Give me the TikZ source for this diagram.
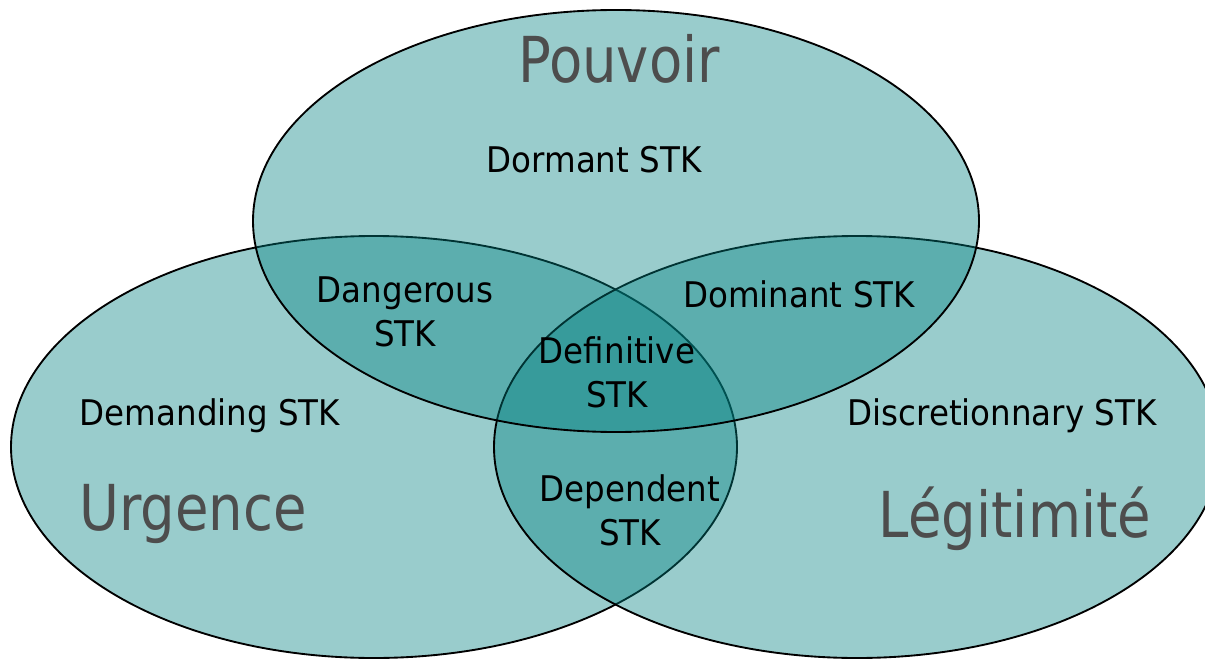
\documentclass[tikz,border=0pt]{standalone}
\usepackage{fontspec}
\setmainfont{DejaVu Sans}[FakeStretch=0.92]
\newfontfamily\titlefont{DejaVu Sans}[FakeStretch=0.86]
\definecolor{setfill}{RGB}{0,128,128}
\definecolor{titlegray}{RGB}{77,77,77}
\tikzset{
  setshape/.style={fill=setfill, fill opacity=0.4, draw=black, line width=1.4pt},
  setname/.style={anchor=base, inner sep=0pt, text=titlegray,
    font={\titlefont\fontsize{47.5}{57}\selectfont}},
  stklabel/.style={anchor=base, inner sep=0pt, align=center, text=black,
    font={\fontsize{26.5}{33}\selectfont}}
}
\begin{document}
\begin{tikzpicture}[x=0.75pt, y=-0.75pt]
  \useasboundingbox (0,0) rectangle (1205,659);
  \begin{scope}
    \clip (0,0) rectangle (1205,659);
    % Urgence, Légitimité, then Pouvoir on top
    \path[setshape] (374,447) ellipse [x radius=363, y radius=211];
    \path[setshape] (857,447) ellipse [x radius=363, y radius=211];
    \path[setshape] (616,221) ellipse [x radius=363, y radius=211];
  \end{scope}

  % set names
  \node[setname] (pouvoir) at (619,83) {Pouvoir};
  \node[setname] (urgence) at (193,530) {Urgence};
  \node[setname] (legitimite) at (1015,537) {Légitimité};

  % stakeholder classes (base = baseline of the last line)
  \node[stklabel] (dormant) at (594,173) {Dormant STK};
  \node[stklabel] (dangerous) at (405,346) {Dangerous\\STK};
  \node[stklabel] (dominant) at (799,307) {Dominant STK};
  \node[stklabel] (definitive) at (617,407) {Definitive\\STK};
  \node[stklabel] (demanding) at (210,425) {Demanding STK};
  \node[stklabel] (discretionnary) at (1002,425) {Discretionnary STK};
  \node[stklabel] (dependent) at (630,545) {Dependent\\STK};
\end{tikzpicture}
\end{document}
